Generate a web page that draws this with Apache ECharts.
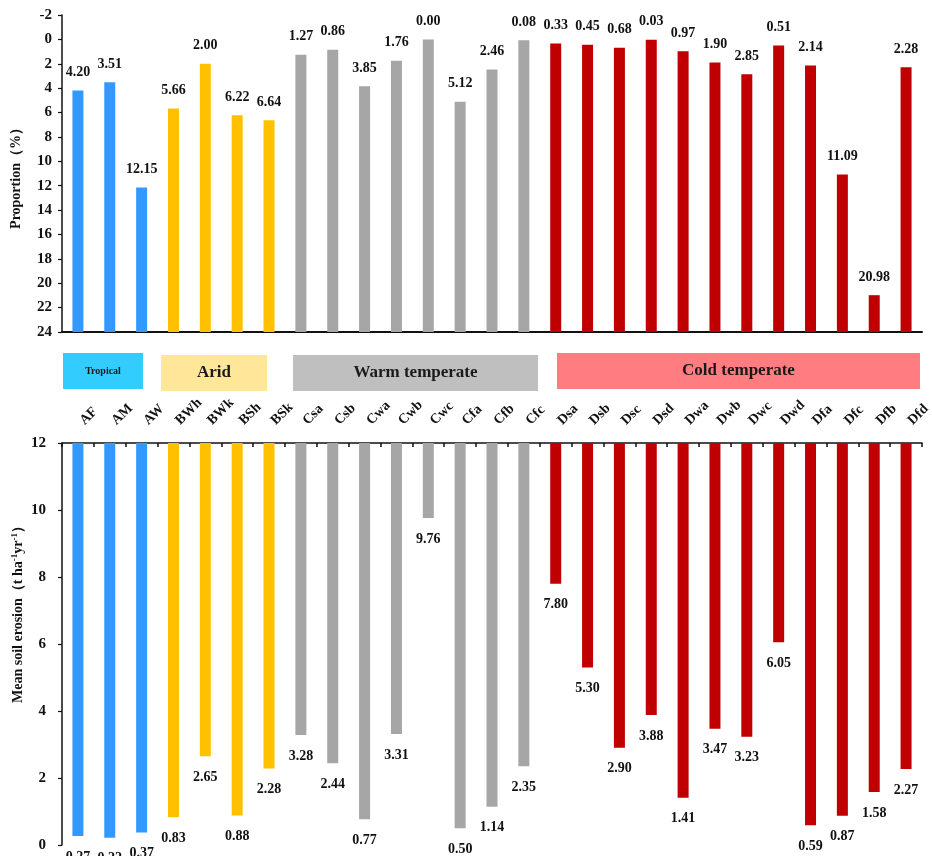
<!DOCTYPE html>
<html>
<head>
<meta charset="utf-8">
<script src="https://cdn.jsdelivr.net/npm/echarts@6/dist/echarts.min.js"></script>
<style>
  html, body { margin: 0; padding: 0; background: #fff; }
  #chart { width: 932px; height: 856px; }
</style>
</head>
<body>
<div id="chart"></div>
<script>
// Köppen climate classes, left to right
const climateCodes = ['AF','AM','AW','BWh','BWk','BSh','BSk','Csa','Csb','Cwa','Cwb','Cwc','Cfa','Cfb','Cfc',
  'Dsa','Dsb','Dsc','Dsd','Dwa','Dwb','Dwc','Dwd','Dfa','Dfc','Dfb','Dfd'];

// Share of area per class (%)
const proportion = [4.20, 3.51, 12.15, 5.66, 2.00, 6.22, 6.64, 1.27, 0.86, 3.85, 1.76, 0.00, 5.12, 2.46, 0.08,
  0.33, 0.45, 0.68, 0.03, 0.97, 1.90, 2.85, 0.51, 2.14, 11.09, 20.98, 2.28];

// Mean soil erosion per class (t ha-1 yr-1)
const erosion = [0.27, 0.22, 0.37, 0.83, 2.65, 0.88, 2.28, 3.28, 2.44, 0.77, 3.31, 9.76, 0.50, 1.14, 2.35,
  7.80, 5.30, 2.90, 3.88, 1.41, 3.47, 3.23, 6.05, 0.59, 0.87, 1.58, 2.27];

// Climate zones: name and number of classes in each
const zoneNames = ['Tropical', 'Arid', 'Warm temperate', 'Cold temperate'];
const zoneSizes = [3, 4, 8, 12];
const zoneBarColors = ['#3399FF', '#FFC000', '#A6A6A6', '#C00000'];
const zoneBandColors = ['#33CCFF', '#FFE699', '#BFBFBF', '#FF7C80'];

// Axis tick ranges
const proportionMin = -2, proportionMax = 24, proportionStep = 2;
const erosionMin = 0, erosionMax = 12, erosionStep = 2;

const SERIF = '"Liberation Serif", "Times New Roman", serif';

// zone index of every class
const zoneOf = [];
zoneSizes.forEach((n, z) => { for (let k = 0; k < n; k++) zoneOf.push(z); });

function barRenderer(base, labelBelow) {
  return function (params, api) {
    const i = api.value(0), v = api.value(1);
    const end = api.coord([i, v]);
    const start = api.coord([i, base]);
    const w = 11;
    const y0 = Math.min(end[1], start[1]);
    const h = Math.abs(start[1] - end[1]);
    return {
      type: 'group',
      children: [
        { type: 'rect', shape: { x: end[0] - w / 2, y: y0, width: w, height: h },
          style: { fill: zoneBarColors[zoneOf[params.dataIndex]] } },
        { type: 'text',
          style: {
            text: v.toFixed(2), x: end[0], y: labelBelow ? end[1] + 14 : end[1] - 11,
            align: 'center', verticalAlign: labelBelow ? 'top' : 'bottom',
            fontFamily: SERIF, fontWeight: 'bold', fontSize: 14, fill: '#111'
          } }
      ]
    };
  };
}

// zone header bands between the two panels
const bandRects = [[63, 353, 80, 36], [161, 355, 106, 36], [293, 355, 245, 36], [557, 353, 363, 36]];
const bandFont = [10, 17, 17, 17];
const graphics = [];
zoneNames.forEach((name, z) => {
  const r = bandRects[z];
  graphics.push({
    type: 'rect', shape: { x: r[0], y: r[1], width: r[2], height: r[3] },
    style: { fill: zoneBandColors[z] }, z: 1
  });
  graphics.push({
    type: 'text', x: r[0] + r[2] / 2, y: r[1] + r[3] / 2,
    style: { text: name, align: 'center', verticalAlign: 'middle', fontFamily: SERIF,
      fontWeight: 'bold', fontSize: bandFont[z], fill: '#1a1a1a' }, z: 2
  });
});
// axis titles
graphics.push({
  type: 'text', x: 16, y: 175, rotation: Math.PI / 2,
  style: { text: 'Proportion（%）', align: 'center', verticalAlign: 'middle',
    fontFamily: SERIF, fontWeight: 'bold', fontSize: 14, fill: '#111' }
});
graphics.push({
  type: 'text', x: 18, y: 611, rotation: Math.PI / 2,
  style: {
    text: '{a|Mean soil erosion（t ha}{s|-1}{a|yr}{s|-1}{a|）}',
    align: 'center', verticalAlign: 'middle',
    rich: {
      a: { fontFamily: SERIF, fontWeight: 'bold', fontSize: 14, fill: '#111' },
      s: { fontFamily: SERIF, fontWeight: 'bold', fontSize: 9, fill: '#111', padding: [0, 0, 7, 0] }
    }
  }
});

const axisLine = { show: true, onZero: false, lineStyle: { color: '#111', width: 1.5 } };
const yLabel = { fontFamily: SERIF, fontWeight: 'bold', fontSize: 15, color: '#111' };

const chart = echarts.init(document.getElementById('chart'));
chart.setOption({
  animation: false,
  backgroundColor: '#fff',
  grid: [
    { left: 62, right: 10, top: 15, height: 317, containLabel: false, outerBoundsMode: 'none' },
    { left: 62, right: 10, top: 443, bottom: 11, containLabel: false, outerBoundsMode: 'none' }
  ],
  xAxis: [
    { gridIndex: 0, type: 'category', data: climateCodes, position: 'bottom',
      axisLine: { show: true, onZero: false, lineStyle: { color: '#111', width: 2 } },
      axisTick: { show: false }, axisLabel: { show: false }, splitLine: { show: false } },
    { gridIndex: 1, type: 'category', data: climateCodes, position: 'top',
      axisLine: axisLine,
      axisTick: { show: true, inside: true, length: 4, lineStyle: { color: '#111', width: 1.5 } },
      axisLabel: { interval: 0, rotate: -45, margin: 16, padding: [0, 0, 0, 6],
        fontFamily: SERIF, fontWeight: 'bold', fontSize: 14, color: '#111' },
      splitLine: { show: false } }
  ],
  yAxis: [
    { gridIndex: 0, type: 'value', inverse: true, min: proportionMin, max: proportionMax,
      interval: proportionStep, axisLine: axisLine,
      axisTick: { show: true, length: 4, lineStyle: { color: '#111', width: 1.2 } },
      axisLabel: Object.assign({ margin: 10 }, yLabel), splitLine: { show: false } },
    { gridIndex: 1, type: 'value', min: erosionMin, max: erosionMax, interval: erosionStep,
      axisLine: axisLine,
      axisTick: { show: true, length: 4, lineStyle: { color: '#111', width: 1.2 } },
      axisLabel: Object.assign({ margin: 16 }, yLabel), splitLine: { show: false } }
  ],
  series: [
    { type: 'custom', name: 'Proportion', xAxisIndex: 0, yAxisIndex: 0,
      renderItem: barRenderer(proportionMax, false),
      data: proportion.map((v, i) => [i, v]) },
    { type: 'custom', name: 'Mean soil erosion', xAxisIndex: 1, yAxisIndex: 1,
      renderItem: barRenderer(erosionMax, true),
      data: erosion.map((v, i) => [i, v]) }
  ],
  graphic: graphics
});
</script>
</body>
</html>
